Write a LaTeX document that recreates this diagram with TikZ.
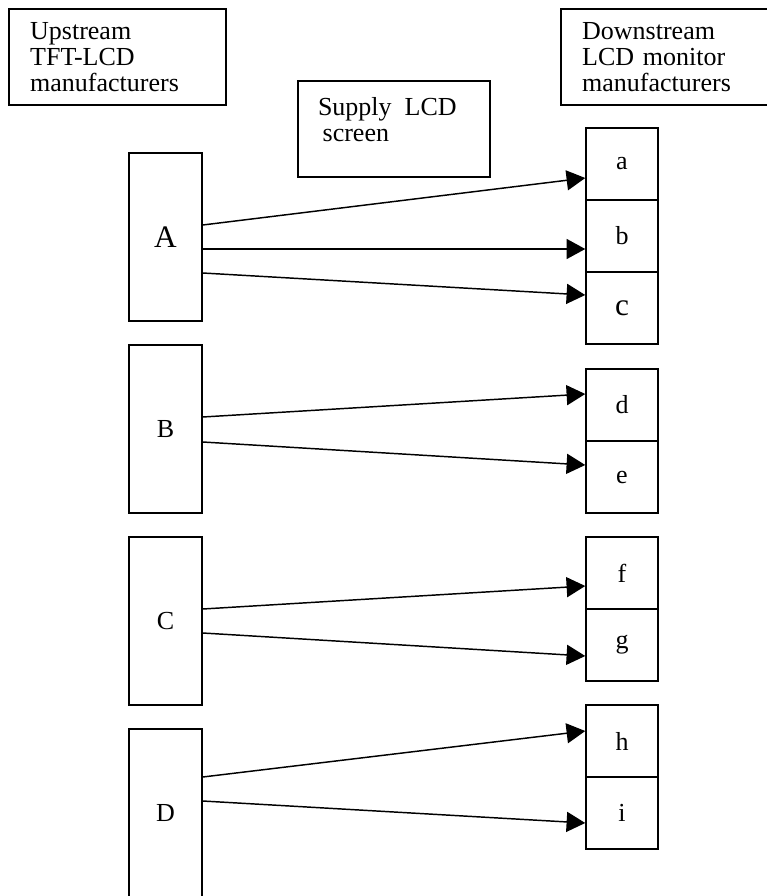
\documentclass[tikz,border=0pt]{standalone}
\usepackage{fontspec}
\setmainfont{Liberation Serif}
\usetikzlibrary{arrows.meta}

\tikzset{
  headbox/.style={draw, rectangle, inner xsep=15.75pt, text width=131pt,
    align=left, minimum height=72pt},
  makerbox/.style={draw, rectangle, inner sep=0pt, minimum width=54.75pt,
    minimum height=126pt},
  cellbox/.style={draw, rectangle, inner sep=0pt, minimum width=54pt,
    minimum height=54pt},
  biglabel/.style={font=\fontsize{23.5pt}{24pt}\selectfont},
  flow/.style={-{Triangle[length=14pt,width=15pt]}}
}

\begin{document}
\begin{tikzpicture}[x=0.75pt, y=-0.75pt, line width=1.1pt,
    font=\fontsize{19.5pt}{19.5pt}\selectfont]
		%%%%% START %%%%%
		\useasboundingbox (0,0) rectangle (767,896);
		\clip (0,0) rectangle (767,896);
		
		% headings
		\node[headbox] (up) at (117.5,57) {Upstream\\TFT-LCD\\manufacturers};
		\node[headbox] (down) at (669.5,57) {Downstream\\LCD monitor\\manufacturers};
		\node[draw, minimum width=144pt, minimum height=72pt,
		  label={[anchor=north west, align=left, inner xsep=15pt, inner ysep=12pt]north west:Supply\ \ LCD\\\hspace*{3.5pt}screen}] (supply) at (394,129) {};
		
		% upstream makers
		\node[makerbox, biglabel] (A) at (165.5,237) {A};
		\node[makerbox] (B) at (165.5,429) {B};
		\node[makerbox] (C) at (165.5,621) {C};
		\node[makerbox] (D) at (165.5,813) {D};
		
		% downstream makers
		\node[cellbox] (a) at (622,164) {a};
		\node[cellbox] (b) at (622,236) {b};
		\node[cellbox, biglabel] (c) at (622,308) {\raisebox{-3pt}{c}};
		
		\node[cellbox] (d) at (622,405) {d};
		\node[cellbox] (e) at (622,477) {e};
		
		\node[cellbox] (f) at (622,573) {f};
		\node[cellbox] (g) at (622,645) {g};
		
		\node[cellbox] (h) at (622,741) {h};
		\node[cellbox] (i) at (622,813) {i};
		
		% supply arrows
		\draw[flow] ([yshift=9pt]A.east) -- ([yshift=-10.5pt]a.west);
		\draw[flow] ([yshift=-9pt]A.east) -- ([yshift=-9.75pt]b.west);
		\draw[flow] ([yshift=-27pt]A.east) -- ([yshift=9.75pt]c.west);
		
		\draw[flow] ([yshift=9pt]B.east) -- ([yshift=8.25pt]d.west);
		\draw[flow] ([yshift=-9.75pt]B.east) -- ([yshift=9pt]e.west);
		
		\draw[flow] ([yshift=9pt]C.east) -- ([yshift=-9.75pt]f.west);
		\draw[flow] ([yshift=-9pt]C.east) -- ([yshift=-8.25pt]g.west);
		
		\draw[flow] ([yshift=27pt]D.east) -- ([yshift=7.5pt]h.west);
		\draw[flow] ([yshift=9pt]D.east) -- ([yshift=-7.5pt]i.west);
		
		%%%%% END %%%%%
	\end{tikzpicture}
\end{document}
